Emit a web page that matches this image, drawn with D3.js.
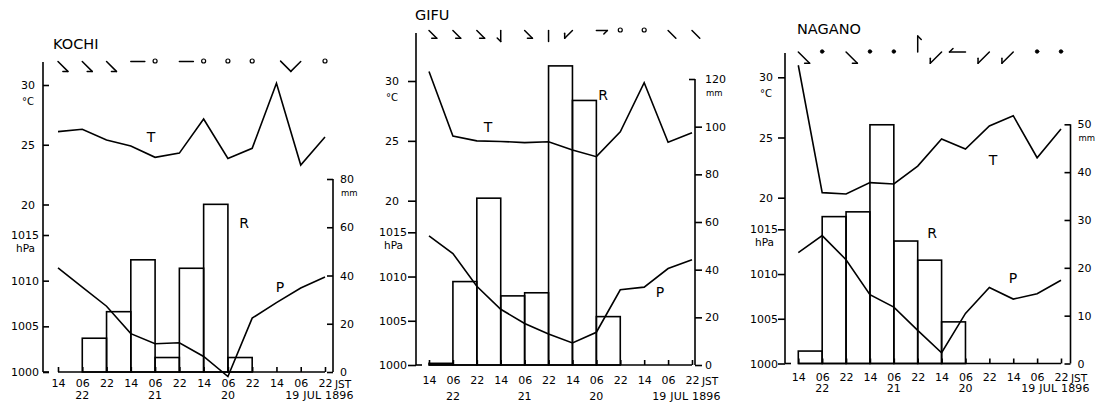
<!DOCTYPE html>
<html><head><meta charset="utf-8">
<script src="https://cdn.jsdelivr.net/npm/d3@7"></script>
<style>
body{margin:0;background:#fff}
svg{display:block}
text{font-family:"DejaVu Sans",sans-serif;fill:#000}
</style>
</head><body><svg id="c" width="1096" height="402"></svg>
<script>
// ---------- data ----------
const hourLabels = ["14","06","22","14","06","22","14","06","22","14","06","22"];
const dayLabels  = ["","22","","","21","","","20","","","",""];
const yearLabel  = "19 JUL 1896";
const tempTicks  = [20,25,30];
const presTicks  = [1000,1005,1010,1015];

const kochiTemp = [26.1,26.3,25.4,24.9,23.95,24.3,27.15,23.85,24.7,30.15,23.3,25.65];
const kochiPres = [1011.4,1009.3,1007.2,1004.2,1003.1,1003.2,1001.7,999.5,1005.9,1007.6,1009.2,1010.4];
const kochiRain = [0,14,25,46.5,6,43,69.5,6,0,0,0];
const kochiRainTicks = [0,20,40,60,80];
const kochiWindDir  = ["SE","SE","SE","E","C","E","C","C","C",null,"SW","C"];
const kochiWindBarb = [1,1,1,0,0,0,0,0,0,0,2,0];

const gifuTemp = [30.8,25.4,25.0,24.95,24.85,24.93,24.24,23.68,25.76,29.86,24.88,25.68];
const gifuPres = [1014.6,1012.6,1008.9,1006.3,1004.7,1003.5,1002.5,1003.7,1008.5,1008.8,1010.9,1011.9];
const gifuRain = [0.7,35,70,29,30.3,125.5,111,20.3,0,0,0];
const gifuRainTicks = [0,20,40,60,80,100,120];
const gifuWindDir  = ["SE","SE","SE","S","SE","S","SW","E","C","C","SE","SE"];
const gifuWindBarb = [1,1,1,1,1,0,1,1,0,0,0,0];

const naganoTemp = [31.0,20.42,20.31,21.25,21.14,22.63,24.88,24.04,25.96,26.81,23.32,25.71];
const naganoPres = [1012.4,1014.3,1011.6,1007.7,1006.3,1003.7,1001.2,1005.6,1008.5,1007.2,1007.8,1009.3];
const naganoRain = [2.6,30.7,31.7,49.9,25.6,21.6,8.7,0,0,0,0];
const naganoRainTicks = [0,10,20,30,40,50];
const naganoWindDir  = ["SE","C","SE","C","C","N","SW","W","SW","SW","C","C"];
const naganoWindBarb = [1,0,1,0,0,1,1,1,1,1,0,0];

// ---------- layout ----------
const panels = [
 {title:"KOCHI", tx:53, ty:48.5, axL:43, axR:333, axTop:62, base:372, x0:58, x1:325,
  tRange:[204.5,85], pRange:[372,235], rRange:[372,179],
  lTick:-6, tPad:8, pPad:4, rTick:-6, rPad:7, bPad:7, row2:399,
  windY:61.5, shaft:14, calmFill:false,
  temp:kochiTemp, pres:kochiPres, rain:kochiRain, rTicks:kochiRainTicks,
  wDir:kochiWindDir, wBarb:kochiWindBarb,
  T:[151,137], R:[244,223], P:[280,287]},
 {title:"GIFU", tx:415, ty:19.5, axL:416, axR:695, axTop:33, base:365, x0:429, x1:692,
  tRange:[200.7,81], pRange:[365,232.3], rRange:[365,79],
  lTick:8, tPad:9, pPad:1, rTick:7, rPad:3, bPad:11, row2:400,
  windY:30.5, shaft:11, calmFill:false,
  temp:gifuTemp, pres:gifuPres, rain:gifuRain, rTicks:gifuRainTicks,
  wDir:gifuWindDir, wBarb:gifuWindBarb,
  T:[488,127], R:[603,95], P:[660,292]},
 {title:"NAGANO", tx:797, ty:33.5, axL:785, axR:1070.5, axTop:53, base:363.5, x0:798.3, x1:1061,
  tRange:[197.7,77.3], pRange:[363.5,229.3], rRange:[363.5,124.3],
  lTick:7, tPad:5, pPad:0, rTick:-6, rPad:7, bPad:9.5, row2:392,
  windY:52, shaft:16, calmFill:true,
  temp:naganoTemp, pres:naganoPres, rain:naganoRain, rTicks:naganoRainTicks,
  wDir:naganoWindDir, wBarb:naganoWindBarb,
  T:[993,160], R:[932,233], P:[1013,278]}
];

const svg = d3.select("#c");
const SW = 1.6;
const dirVec = {N:[0,-1],S:[0,1],E:[1,0],W:[-1,0],SE:[0.7071,0.7071],SW:[-0.7071,0.7071],NE:[0.7071,-0.7071],NW:[-0.7071,-0.7071]};

function styleAxis(g, size){
  g.attr("font-family",null).attr("font-size",null);
  g.select(".domain").remove();
  g.selectAll("line").attr("stroke","#000").attr("stroke-width",SW);
  g.selectAll("text").attr("font-size",size).attr("fill","#000");
}

panels.forEach(L => {
  const g = svg.append("g");
  const idx = d3.range(hourLabels.length);
  const x = d3.scaleLinear().domain([0, hourLabels.length-1]).range([L.x0, L.x1]);
  const yT = d3.scaleLinear().domain([20,30]).range(L.tRange);
  const yP = d3.scaleLinear().domain([1000,1015]).range(L.pRange);
  const rMax = d3.max(L.rTicks);
  const yR = d3.scaleLinear().domain([0,rMax]).range(L.rRange);

  // bars (rain)
  g.append("g").selectAll("rect").data(L.rain.map((v,i)=>({v,i})).filter(d=>d.v>0)).join("rect")
    .attr("x", d=>x(d.i)).attr("width", d=>x(d.i+1)-x(d.i))
    .attr("y", d=>yR(d.v)).attr("height", d=>yR(0)-yR(d.v))
    .attr("fill","none").attr("stroke","#000").attr("stroke-width",SW);

  // lines
  const lineT = d3.line().x((d,i)=>x(i)).y(d=>yT(d));
  const lineP = d3.line().x((d,i)=>x(i)).y(d=>yP(d));
  g.append("path").attr("d",lineT(L.temp)).attr("fill","none").attr("stroke","#000").attr("stroke-width",SW);
  g.append("path").attr("d",lineP(L.pres)).attr("fill","none").attr("stroke","#000").attr("stroke-width",SW);

  // left axis line
  g.append("line").attr("x1",L.axL).attr("x2",L.axL).attr("y1",L.axTop).attr("y2",L.base)
    .attr("stroke","#000").attr("stroke-width",SW);
  // temperature axis
  const gt = g.append("g").attr("transform",`translate(${L.axL},0)`)
    .call(d3.axisLeft(yT).tickValues(tempTicks).tickSize(L.lTick).tickPadding(L.tPad).tickFormat(d3.format("d")));
  styleAxis(gt, 11);
  const tEnd = L.axL - Math.max(L.lTick,0) - L.tPad;
  g.append("text").attr("x", tEnd - 1).attr("y", yT(30)+20)
    .attr("text-anchor","end").attr("font-size",10).text("°C");
  // pressure axis
  const gp = g.append("g").attr("transform",`translate(${L.axL},0)`)
    .call(d3.axisLeft(yP).tickValues(presTicks).tickSize(L.lTick).tickPadding(L.pPad).tickFormat(d3.format("d")));
  styleAxis(gp, 11);
  const pEnd = L.axL - Math.max(L.lTick,0) - L.pPad;
  g.append("text").attr("x", pEnd - 13.5).attr("y", yP(1015)+16.5)
    .attr("text-anchor","middle").attr("font-size",10.5).text("hPa");

  // right (rain) axis
  g.append("line").attr("x1",L.axR).attr("x2",L.axR).attr("y1",yR(rMax)).attr("y2",L.base)
    .attr("stroke","#000").attr("stroke-width",SW);
  const gr = g.append("g").attr("transform",`translate(${L.axR},0)`)
    .call(d3.axisRight(yR).tickValues(L.rTicks).tickSize(L.rTick).tickPadding(L.rPad).tickFormat(d3.format("d")));
  styleAxis(gr, 11);
  gr.selectAll(".tick").filter(d=>d===rMax).select("line").attr("x2",-6);
  gr.selectAll(".tick").filter(d=>d===rMax).select("text").attr("x", Math.max(L.rTick,0)+L.rPad);
  g.append("text").attr("x", L.axR + Math.max(L.rTick,0) + L.rPad + 1).attr("y", yR(rMax)+17)
    .attr("font-size",8.5).text("mm");

  // bottom axis
  g.append("line").attr("x1",L.x0).attr("x2",L.x1).attr("y1",L.base).attr("y2",L.base)
    .attr("stroke","#000").attr("stroke-width",SW);
  g.append("line").attr("x1",L.axL).attr("x2",L.axL+6).attr("y1",L.base).attr("y2",L.base)
    .attr("stroke","#000").attr("stroke-width",SW);
  const gb = g.append("g").attr("transform",`translate(0,${L.base})`)
    .call(d3.axisBottom(x).tickValues(idx).tickSize(-5).tickPadding(L.bPad).tickFormat(i=>hourLabels[i]));
  styleAxis(gb, 11);
  const jst = g.append("text").attr("x", x(idx.length-1)+10).attr("y", L.base + L.bPad + 1.5).attr("dy","0.71em")
    .attr("font-size",10.5).text("JST");
  // day labels
  g.selectAll("text.day").data(idx.filter(i=>dayLabels[i])).join("text").attr("class","day")
    .attr("x", i=>x(i)).attr("y", L.row2).attr("text-anchor","middle").attr("font-size",11)
    .text(i=>dayLabels[i]);
  const jb = jst.node().getBBox();
  g.append("text").attr("x", Math.min(jb.x + jb.width + 2, 1095)).attr("y", L.row2).attr("text-anchor","end")
    .attr("font-size",11).attr("letter-spacing",0.2).text(yearLabel);

  // title & series letters
  g.append("text").attr("x",L.tx).attr("y",L.ty).attr("font-size",14.5).text(L.title);
  [["T",L.T],["R",L.R],["P",L.P]].forEach(([s,p]) =>
    g.append("text").attr("x",p[0]).attr("y",p[1]).attr("text-anchor","middle").attr("dominant-baseline","central")
      .attr("font-size",14).text(s));

  // wind symbols
  const wg = g.append("g").attr("stroke","#000").attr("stroke-width",1.5).attr("fill","none").attr("stroke-linecap","round");
  idx.forEach(i => {
    const d = L.wDir[i];
    if (d == null) return;
    const cx = x(i), cy = L.windY;
    if (d === "C") {
      wg.append("circle").attr("cx",cx).attr("cy",cy-0.5).attr("r",L.calmFill?1.8:2)
        .attr("fill",L.calmFill?"#000":"#fff").attr("stroke-width",L.calmFill?0.8:1.2);
      return;
    }
    const [vx,vy] = dirVec[d];
    const ex = cx + vx*L.shaft, ey = cy + vy*L.shaft;
    wg.append("line").attr("x1",cx).attr("y1",cy).attr("x2",ex).attr("y2",ey);
    const b = L.wBarb[i];
    if (b > 0) {
      // short feather at 135 deg, long feather at 90 deg to the shaft
      const a = (b === 1 ? 135 : 90) * Math.PI/180;
      const bl = b === 1 ? 5 : 14.5;
      const bx = vx*Math.cos(a) - vy*Math.sin(a), by = vx*Math.sin(a) + vy*Math.cos(a);
      wg.append("line").attr("x1",ex).attr("y1",ey).attr("x2",ex + bx*bl).attr("y2",ey + by*bl);
    }
  });
});
</script>
</body></html>
